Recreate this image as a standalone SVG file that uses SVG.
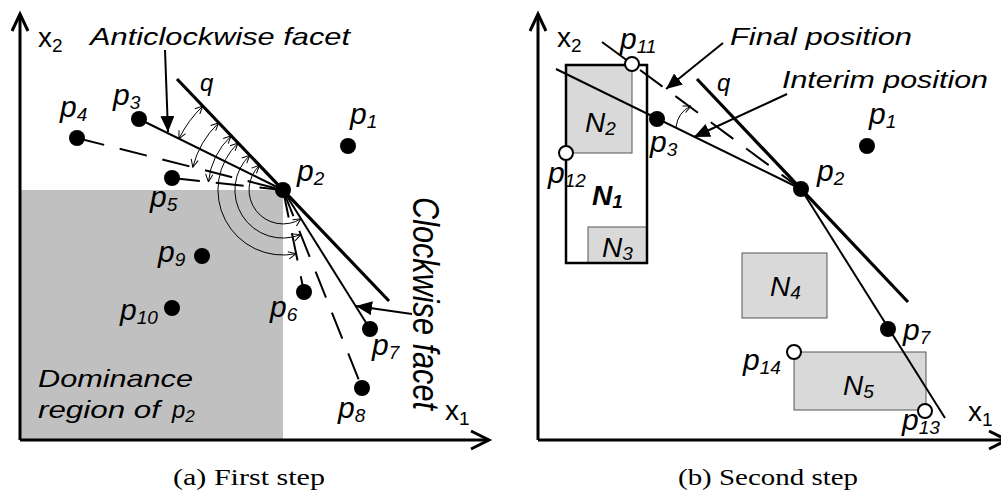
<svg xmlns="http://www.w3.org/2000/svg" width="1001" height="497" viewBox="0 0 1001 497">
<style>
.ax{stroke:#000;stroke-width:3;fill:none}
.q{stroke:#000;stroke-width:3.2}
.th{stroke:#000;stroke-width:2}
.ds{stroke:#000;stroke-width:2;stroke-dasharray:28 16}
.arc{stroke:#000;stroke-width:1;fill:none;marker-start:url(#oa);marker-end:url(#oa)}
.arc1{stroke:#000;stroke-width:1;fill:none;marker-end:url(#oa)}
.ann{stroke:#000;stroke-width:2;marker-end:url(#ah)}
.dot{fill:#000}
.oc{fill:#fff;stroke:#000;stroke-width:2}
.lbl{font-family:"Liberation Sans",Arial,sans-serif;font-style:italic;font-size:30px;fill:#000}
.ax-l{font-family:"Liberation Sans",Arial,sans-serif;font-size:28px;fill:#000}
.nl{font-family:"Liberation Sans",Arial,sans-serif;font-style:italic;font-size:28px;fill:#000}
.sub{font-size:19px}
.hd{font-family:"Liberation Sans",Arial,sans-serif;font-style:italic;font-size:24px;fill:#000}
.cap{font-family:"Liberation Serif","Times New Roman",serif;font-size:24px;fill:#000}
.box{fill:#d9d9d9;stroke:#555;stroke-width:1}
</style>
<defs>
<marker id="ah" viewBox="0 0 16 14" refX="16" refY="7" markerWidth="16" markerHeight="14" markerUnits="userSpaceOnUse" orient="auto"><path d="M0,0 L16,7 L0,14 z" fill="#000"/></marker>
<marker id="oa" viewBox="0 0 10 10" refX="9.5" refY="5" markerWidth="9" markerHeight="9" markerUnits="userSpaceOnUse" orient="auto-start-reverse"><path d="M1,1 L9.5,5 L1,9" fill="none" stroke="#000" stroke-width="1.1"/></marker>
</defs>
<rect width="1001" height="497" fill="#fff"/>

<!-- Panel (a) background -->
<g id="panel-a-frame">
<rect id="dominance" x="20" y="190" width="263" height="250" fill="#c0c0c0"/>
<line class="ax" x1="20" y1="440" x2="20" y2="14"/>
<polyline class="ax" points="12,31 20,14 28,31"/>
<line class="ax" x1="20" y1="440" x2="489" y2="440"/>
<polyline class="ax" points="471,431 489,440 471,449"/>
</g>

<!-- Panel (b) frame -->
<g id="panel-b-frame">
<line class="ax" x1="538" y1="440" x2="538" y2="14"/>
<polyline class="ax" points="530,31 538,14 546,31"/>
<line class="ax" x1="538" y1="440" x2="1007" y2="440"/>
<polyline class="ax" points="989,431 1007,440 989,449"/>
</g>

<!-- boxes panel b -->
<g id="N2"><rect class="box" x="566" y="65" width="66" height="88"/><text class="nl" x="585" y="132">N<tspan class="sub" dy="3">2</tspan></text></g>
<g id="N3"><rect class="box" x="588" y="227" width="59" height="36"/><text class="nl" x="602" y="257">N<tspan class="sub" dy="3">3</tspan></text></g>
<g id="N1"><rect x="566" y="65" width="81" height="198" fill="none" stroke="#000" stroke-width="2.5"/><text class="nl" x="592" y="205" font-weight="bold">N<tspan class="sub" dy="3">1</tspan></text></g>
<g id="N4"><rect class="box" x="742" y="253" width="85" height="65"/><text class="nl" x="770" y="296">N<tspan class="sub" dy="3">4</tspan></text></g>
<g id="N5"><rect class="box" x="794" y="352" width="132" height="58"/><text class="nl" x="843" y="395">N<tspan class="sub" dy="3">5</tspan></text></g>

<!-- connectors -->
<g id="connectors">
<!-- panel a -->
<line class="q" x1="177" y1="79" x2="389" y2="301"/>
<line class="th" x1="139" y1="119" x2="283" y2="190"/>
<line class="th" x1="283" y1="190" x2="370" y2="329"/>
<line class="ds" x1="77" y1="138" x2="283" y2="190"/>
<line class="ds" x1="172" y1="178" x2="283" y2="190"/>
<line class="ds" x1="283" y1="190" x2="304" y2="292"/>
<line class="ds" x1="283" y1="190" x2="362" y2="388"/>
<path class="arc" d="M202.8,106.1 A116,116 0 0 0 178.9,138.8"/>
<path class="arc" d="M218.7,122.8 A93,93 0 0 0 192.8,167.2"/>
<path class="arc" d="M231.2,135.8 A75,75 0 0 0 208.4,181.9"/>
<path class="arc" d="M238.1,143.0 A65,65 0 0 0 296.1,253.7"/>
<path class="arc" d="M249.8,155.3 A48,48 0 0 0 300.8,234.6"/>
<path class="arc" d="M259.5,165.4 A34,34 0 0 0 301.0,218.8"/>
<line class="ann" x1="165" y1="50" x2="168" y2="132"/>
<line class="ann" x1="412" y1="314" x2="356" y2="306"/>
<!-- panel b -->
<line class="q" x1="697" y1="79" x2="908" y2="302"/>
<line class="th" x1="556" y1="69" x2="801" y2="189"/>
<line class="th" x1="801" y1="189" x2="945" y2="418"/>
<line class="th" x1="602" y1="42" x2="632" y2="64"/>
<line class="ds" x1="632" y1="64" x2="801" y2="189" style="stroke-dashoffset:34"/>
<path class="arc1" d="M676,127 Q678,112 691,106"/>
<line class="ann" x1="723" y1="43" x2="666" y2="89"/>
<line class="ann" x1="787" y1="94" x2="694" y2="137"/>
</g>

<!-- panel a nodes -->
<g id="a-p1"><circle class="dot" cx="348" cy="146" r="8"/><text class="lbl" x="350" y="124">p<tspan class="sub" dy="4">1</tspan></text></g>
<g id="a-p2"><circle class="dot" cx="283" cy="190" r="8"/><text class="lbl" x="297" y="181">p<tspan class="sub" dy="4">2</tspan></text></g>
<g id="a-p3"><circle class="dot" cx="139" cy="119" r="8"/><text class="lbl" x="113" y="105">p<tspan class="sub" dy="4">3</tspan></text></g>
<g id="a-p4"><circle class="dot" cx="77" cy="138" r="8"/><text class="lbl" x="60" y="117">p<tspan class="sub" dy="4">4</tspan></text></g>
<g id="a-p5"><circle class="dot" cx="172" cy="178" r="8"/><text class="lbl" x="150" y="207">p<tspan class="sub" dy="4">5</tspan></text></g>
<g id="a-p6"><circle class="dot" cx="304" cy="292" r="8"/><text class="lbl" x="270" y="317">p<tspan class="sub" dy="4">6</tspan></text></g>
<g id="a-p7"><circle class="dot" cx="370" cy="329" r="8"/><text class="lbl" x="372" y="355">p<tspan class="sub" dy="4">7</tspan></text></g>
<g id="a-p8"><circle class="dot" cx="362" cy="388" r="8"/><text class="lbl" x="338" y="418">p<tspan class="sub" dy="4">8</tspan></text></g>
<g id="a-p9"><circle class="dot" cx="202" cy="256" r="8"/><text class="lbl" x="158" y="262">p<tspan class="sub" dy="4">9</tspan></text></g>
<g id="a-p10"><circle class="dot" cx="172" cy="308" r="8"/><text class="lbl" x="120" y="320">p<tspan class="sub" dy="4">10</tspan></text></g>

<!-- panel b nodes -->
<g id="b-p1"><circle class="dot" cx="867" cy="146" r="8"/><text class="lbl" x="869" y="124">p<tspan class="sub" dy="4">1</tspan></text></g>
<g id="b-p2"><circle class="dot" cx="801" cy="189" r="8"/><text class="lbl" x="817" y="181">p<tspan class="sub" dy="4">2</tspan></text></g>
<g id="b-p3"><circle class="dot" cx="657" cy="119" r="8"/><text class="lbl" x="650" y="152">p<tspan class="sub" dy="4">3</tspan></text></g>
<g id="b-p7"><circle class="dot" cx="888" cy="329" r="8"/><text class="lbl" x="903" y="340">p<tspan class="sub" dy="4">7</tspan></text></g>
<g id="b-p11"><circle class="oc" cx="632" cy="64" r="7"/><text class="lbl" x="620" y="49">p<tspan class="sub" dy="4">11</tspan></text></g>
<g id="b-p12"><circle class="oc" cx="566" cy="153" r="7"/><text class="lbl" x="548" y="183">p<tspan class="sub" dy="4">12</tspan></text></g>
<g id="b-p13"><circle class="oc" cx="925" cy="411" r="7"/><text class="lbl" x="902" y="430">p<tspan class="sub" dy="4">13</tspan></text></g>
<g id="b-p14"><circle class="oc" cx="794" cy="352" r="7"/><text class="lbl" x="743" y="370">p<tspan class="sub" dy="4">14</tspan></text></g>

<!-- texts -->
<g id="labels">
<text class="ax-l" x="38" y="47">x<tspan class="sub" dy="5">2</tspan></text>
<text class="ax-l" x="445" y="420">x<tspan class="sub" dy="5">1</tspan></text>
<text class="ax-l" x="557" y="47">x<tspan class="sub" dy="5">2</tspan></text>
<text class="ax-l" x="968" y="421">x<tspan class="sub" dy="5">1</tspan></text>
<text class="hd" x="90" y="45" textLength="260" lengthAdjust="spacingAndGlyphs">Anticlockwise facet</text>
<text class="hd" x="200" y="91">q</text>
<text class="hd" x="717" y="91">q</text>
<text class="hd" transform="translate(413,197) rotate(90)" textLength="213" lengthAdjust="spacingAndGlyphs" style="font-size:37px">Clockwise facet</text>
<text class="hd" x="38" y="387" textLength="155" lengthAdjust="spacingAndGlyphs">Dominance</text>
<text class="hd" x="38" y="418" textLength="122" lengthAdjust="spacingAndGlyphs">region of</text>
<text class="hd" x="172" y="418">p<tspan class="sub" dy="4" style="font-size:17px">2</tspan></text>
<text class="hd" x="730" y="45" textLength="182" lengthAdjust="spacingAndGlyphs">Final position</text>
<text class="hd" x="782" y="88" textLength="206" lengthAdjust="spacingAndGlyphs">Interim position</text>
<text class="cap" x="173" y="485" textLength="152" lengthAdjust="spacingAndGlyphs">(a) First step</text>
<text class="cap" x="678" y="485" textLength="180" lengthAdjust="spacingAndGlyphs">(b) Second step</text>
</g>
</svg>
